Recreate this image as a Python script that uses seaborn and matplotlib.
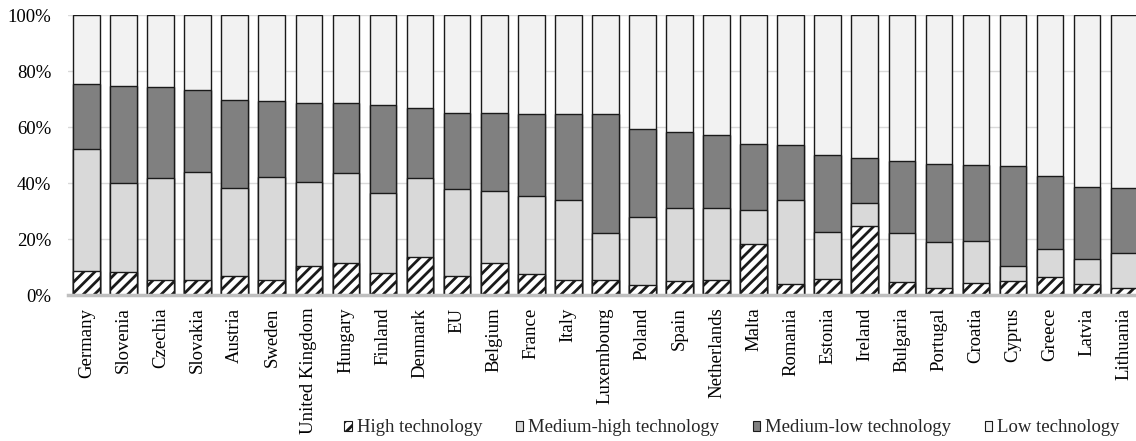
import matplotlib
matplotlib.use("Agg")
import matplotlib.pyplot as plt
import seaborn as sns
import pandas as pd
from matplotlib.patches import Patch

# Share of manufacturing value added by technology intensity (%)
countries = ["Germany", "Slovenia", "Czechia", "Slovakia", "Austria", "Sweden",
             "United Kingdom", "Hungary", "Finland", "Denmark", "EU", "Belgium",
             "France", "Italy", "Luxembourg", "Poland", "Spain", "Netherlands",
             "Malta", "Romania", "Estonia", "Ireland", "Bulgaria", "Portugal",
             "Croatia", "Cyprus", "Greece", "Latvia", "Lithuania"]
high = [8.6, 8.3, 5.4, 5.4, 6.8, 5.4, 10.5, 11.4, 7.7, 13.7, 6.8, 11.3, 7.4, 5.4,
        5.4, 3.5, 4.9, 5.4, 18.1, 4.0, 5.6, 24.6, 4.5, 2.5, 4.2, 5.1, 6.4, 3.9, 2.4]
medium_high = [43.4, 31.7, 36.3, 38.6, 31.5, 36.6, 30.0, 32.1, 28.6, 28.0, 30.9,
               25.8, 28.0, 28.4, 16.6, 24.5, 26.1, 25.6, 12.1, 29.9, 16.9, 8.1,
               17.5, 16.3, 15.1, 5.3, 10.1, 9.0, 12.5]
medium_low = [23.2, 34.5, 32.6, 29.1, 31.5, 27.4, 28.2, 25.0, 31.6, 25.2, 27.4,
              28.0, 29.1, 30.7, 42.8, 31.2, 27.1, 26.1, 23.7, 19.7, 27.6, 16.3,
              25.7, 28.0, 27.2, 35.7, 26.0, 25.7, 23.4]
low = [24.8, 25.5, 25.7, 26.9, 30.2, 30.6, 31.3, 31.5, 32.1, 33.1, 34.9, 34.9,
       35.5, 35.5, 35.2, 40.8, 41.9, 42.9, 46.1, 46.4, 49.9, 51.0, 52.3, 53.2,
       53.5, 53.9, 57.5, 61.4, 61.7]
series_names = ["High technology", "Medium-high technology",
                "Medium-low technology", "Low technology"]
y_ticks = [0, 20, 40, 60, 80, 100]

sns.set_theme(style="white")
plt.rcParams["font.family"] = ["Liberation Serif", "DejaVu Serif"]
plt.rcParams["hatch.linewidth"] = 2.0
plt.rcParams["hatch.color"] = "black"

df = pd.DataFrame({"country": countries,
                   series_names[0]: high,
                   series_names[1]: medium_high,
                   series_names[2]: medium_low,
                   series_names[3]: low})
# Stack tops: each segment is drawn as a bar to its cumulative top,
# from the tallest layer down, so lower layers cover the ones above.
tops = df[series_names].cumsum(axis=1)

styles = {
    "High technology": dict(color="white", hatch="///"),
    "Medium-high technology": dict(color="#d9d9d9", hatch=None),
    "Medium-low technology": dict(color="#808080", hatch=None),
    "Low technology": dict(color="#f2f2f2", hatch=None),
}

W, H = 1136, 441
fig = plt.figure(figsize=(W / 100, H / 100), dpi=100)
step = 37.06
ax = fig.add_axes([68 / W, (H - 295) / H, 29 * step / W, 280 / H])

for name in reversed(series_names):
    st = styles[name]
    kw = dict(hatch=st["hatch"]) if st["hatch"] else {}
    sns.barplot(x=df["country"], y=tops[name], color=st["color"], saturation=1,
                width=0.72, edgecolor="#1a1a1a", linewidth=1.0, ax=ax, **kw)

ax.set_xlim(-0.5, len(countries) - 0.5)
ax.set_ylim(0, 100)
ax.set_yticks(y_ticks)
ax.set_yticklabels([f"{v}%" for v in y_ticks])
ax.set_xlabel("")
ax.set_ylabel("")
ax.yaxis.grid(True, color="#d9d9d9", linewidth=1)
ax.set_axisbelow(True)
for side in ["top", "right", "left"]:
    ax.spines[side].set_visible(False)
ax.spines["bottom"].set_color("#bfbfbf")
ax.spines["bottom"].set_linewidth(2.5)
ax.tick_params(axis="y", length=0, labelsize=13.5, pad=12, labelcolor="black")
ax.tick_params(axis="x", length=0, labelsize=13.5, pad=9, labelcolor="black",
               labelrotation=90)

handles = [Patch(facecolor=styles[n]["color"], edgecolor="#1a1a1a",
                 hatch=styles[n]["hatch"], linewidth=0.8) for n in series_names]
fig.legend(handles, series_names, loc="center", ncol=4, frameon=False,
           bbox_to_anchor=(732 / W, 1 - 428 / H), fontsize=13.5,
           handlelength=0.4, handleheight=0.4, handletextpad=0.25,
           columnspacing=1.8, borderpad=0, borderaxespad=0)

fig.savefig("out.png", dpi=100)
